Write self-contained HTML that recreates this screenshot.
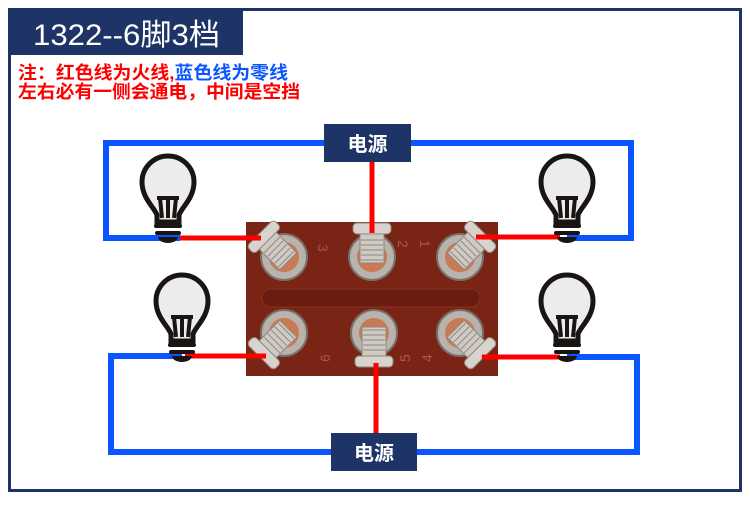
<!DOCTYPE html>
<html><head><meta charset="utf-8"><style>
body{margin:0;background:#fff;width:750px;height:500px;overflow:hidden;font-family:"Liberation Sans","Noto Sans CJK SC",sans-serif}
</style></head><body>
<svg width="750" height="500" viewBox="0 0 750 500" xmlns="http://www.w3.org/2000/svg">
<defs>
<g id="bulb">
 <path d="M-11,-20 L-11,-27 C-14,-35 -26,-44 -26,-60 A26,26 0 1 1 26,-60 C26,-44 14,-35 11,-27 L11,-20 Z" fill="#ececef" stroke="#1a1412" stroke-width="5"/>
 <path d="M-11,-44 L11,-44 M-8,-44 L-6,-24 M8,-44 L6,-24 M0,-44 L0,-24" stroke="#1a1412" stroke-width="4" fill="none"/>
 <rect x="-14" y="-18" width="28" height="4" rx="2" fill="#1a1412"/>
 <rect x="-13" y="-11" width="26" height="4" rx="2" fill="#1a1412"/>
 <path d="M-10,-5 L10,-5 A10,6 0 0 1 -10,-5Z" fill="#1a1412"/>
</g>
<g id="term">
 <circle r="23" fill="#b9b3ad" stroke="#7a706a" stroke-width="2"/>
 <circle r="15" fill="#c87a55"/>
 <rect x="-12" y="-24" width="24" height="30" fill="#cfcac4" stroke="#8e867f"/>
 <path d="M-11,-17h22M-11,-12h22M-11,-7h22M-11,-2h22M-11,3h22" stroke="#8e867f"/>
 <rect x="-19" y="-34" width="38" height="11" rx="4" fill="#d8d3cd" stroke="#8e867f"/>
</g>
</defs>
<rect x="9.5" y="9.5" width="731" height="481" fill="#fff" stroke="#1f3466" stroke-width="3"/>
<rect x="8" y="8" width="235" height="47" fill="#1f3466"/>
<text x="33" y="45" fill="#fff" font-size="30" textLength="187" lengthAdjust="spacingAndGlyphs">1322--6脚3档</text>
<text x="18" y="79" font-size="18" font-weight="bold" fill="#f00" textLength="270" lengthAdjust="spacingAndGlyphs">注：红色线为火线,<tspan fill="#0a55ff">蓝色线为零线</tspan></text>
<text x="18" y="98" font-size="18" font-weight="bold" fill="#f00" textLength="282" lengthAdjust="spacingAndGlyphs">左右必有一侧会通电，中间是空挡</text>
<g fill="none" stroke="#0a55ff" stroke-width="6">
 <path d="M325,143 H106 V238 H180"/>
 <path d="M410,143 H631 V238 H567"/>
 <path d="M182,356 H111 V452 H332"/>
 <path d="M416,452 H637 V357 H567"/>
</g>
<rect x="246" y="222" width="252" height="154" fill="#7a2416"/>
<rect x="262" y="289" width="218" height="18" rx="9" fill="#6a1c10" stroke="#8a3020"/>
<g font-size="14" fill="#a85a48">
<text x="318" y="244" transform="rotate(90 318 244)">3</text>
<text x="398" y="240" transform="rotate(90 398 240)">2</text>
<text x="420" y="240" transform="rotate(90 420 240)">1</text>
<text x="330" y="362" transform="rotate(-90 330 362)">6</text>
<text x="410" y="362" transform="rotate(-90 410 362)">5</text>
<text x="432" y="362" transform="rotate(-90 432 362)">4</text>
</g>
<use href="#term" transform="translate(284,257) rotate(-45)"/>
<use href="#term" transform="translate(372,257)"/>
<use href="#term" transform="translate(460,257) rotate(45)"/>
<use href="#term" transform="translate(284,333) rotate(225)"/>
<use href="#term" transform="translate(374,333) rotate(180)"/>
<use href="#term" transform="translate(460,333) rotate(135)"/>
<g stroke="#f00" stroke-width="5">
 <path d="M180,238 H261"/><path d="M372,162 V233"/><path d="M476,237 H560"/>
 <path d="M185,356 H266"/><path d="M376,363 V436"/><path d="M482,357 H560"/>
</g>
<use href="#bulb" transform="translate(168,242)"/>
<use href="#bulb" transform="translate(567,242)"/>
<use href="#bulb" transform="translate(182,361)"/>
<use href="#bulb" transform="translate(567,361)"/>
<rect x="324" y="124" width="87" height="38" fill="#1f3466"/>
<text x="367.5" y="151" text-anchor="middle" fill="#fff" font-size="20" font-weight="bold">电源</text>
<rect x="331" y="433" width="86" height="38" fill="#1f3466"/>
<text x="374" y="460" text-anchor="middle" fill="#fff" font-size="20" font-weight="bold">电源</text>
</svg>
</body></html>
